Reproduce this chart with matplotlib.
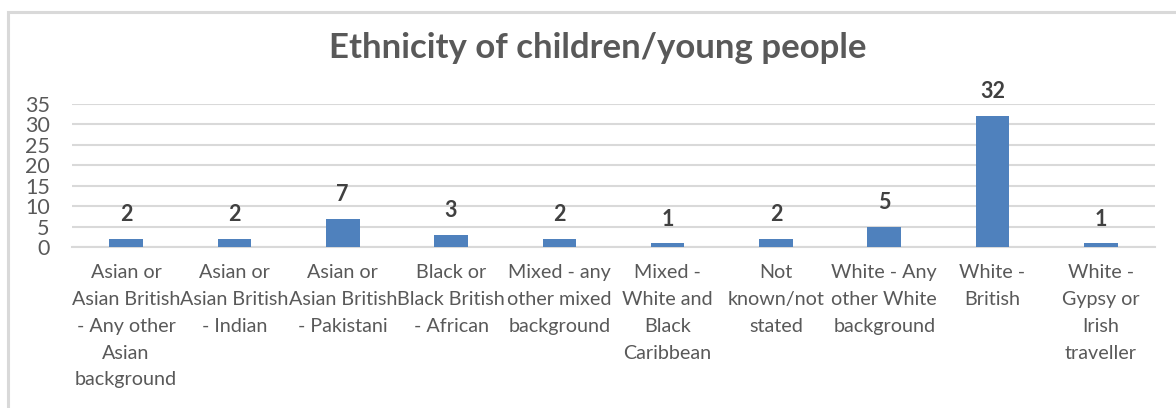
"""Bar chart: ethnicity of children/young people."""

import matplotlib

matplotlib.use("Agg")
import matplotlib.pyplot as plt
from matplotlib.patches import Rectangle

categories = [
    "Asian or\nAsian British\n- Any other\nAsian\nbackground",
    "Asian or\nAsian British\n- Indian",
    "Asian or\nAsian British\n- Pakistani",
    "Black or\nBlack British\n- African",
    "Mixed - any\nother mixed\nbackground",
    "Mixed -\nWhite and\nBlack\nCaribbean",
    "Not\nknown/not\nstated",
    "White - Any\nother White\nbackground",
    "White -\nBritish",
    "White -\nGypsy or\nIrish\ntraveller",
]
counts = [2, 2, 7, 3, 2, 1, 2, 5, 32, 1]
y_ticks = [0, 5, 10, 15, 20, 25, 30, 35]

FONT = ["Lato", "DejaVu Sans"]
BAR_COLOR = "#4f81bd"
TEXT_GREY = "#595959"
LABEL_GREY = "#404040"

plt.rcParams["font.family"] = FONT

fig = plt.figure(figsize=(11.76, 4.08), dpi=100)
ax = fig.add_axes([0.0612, 0.3934, 0.9209, 0.3517])

# light frame around the chart area, running off the right/bottom edges
fig.patches.append(
    Rectangle((8 / 1176, -0.1), 1.2, (402 - 6) / 408 + 0.1, transform=fig.transFigure,
              fill=False, edgecolor="#d9d9d9", linewidth=2.2)
)

x = list(range(len(categories)))
bars = ax.bar(x, counts, width=0.31, color=BAR_COLOR, zorder=3)

for bar, val in zip(bars, counts):
    ax.annotate(
        str(val),
        (bar.get_x() + bar.get_width() / 2, bar.get_height()),
        xytext=(0, 10),
        textcoords="offset points",
        ha="center",
        va="bottom",
        fontsize=15.5,
        fontweight="bold",
        color=LABEL_GREY,
    )

# category labels drawn as annotations so the line spacing sticks
for xi, label in zip(x, categories):
    ax.annotate(
        label,
        (xi, 0),
        xycoords=("data", "axes fraction"),
        xytext=(0, -12),
        textcoords="offset points",
        ha="center",
        va="top",
        fontsize=14.2,
        color=TEXT_GREY,
        linespacing=1.7,
    )

ax.set_xlim(-0.5, len(categories) - 0.5)
ax.set_ylim(0, 35)
ax.set_yticks(y_ticks)
ax.set_yticklabels([str(t) for t in y_ticks])
ax.set_xticks([])
ax.tick_params(axis="y", length=0, pad=16, labelsize=15.5, labelcolor=TEXT_GREY)

ax.grid(axis="y", color="#d9d9d9", linewidth=1.5, zorder=0)
for side in ("top", "right", "left"):
    ax.spines[side].set_visible(False)
ax.spines["bottom"].set_color("#d9d9d9")
ax.spines["bottom"].set_linewidth(1.5)

fig.text(0.508, 0.882, "Ethnicity of children/young people", ha="center", va="center",
         fontsize=25, fontweight="bold", color=TEXT_GREY)

fig.savefig("out.png", dpi=100)
